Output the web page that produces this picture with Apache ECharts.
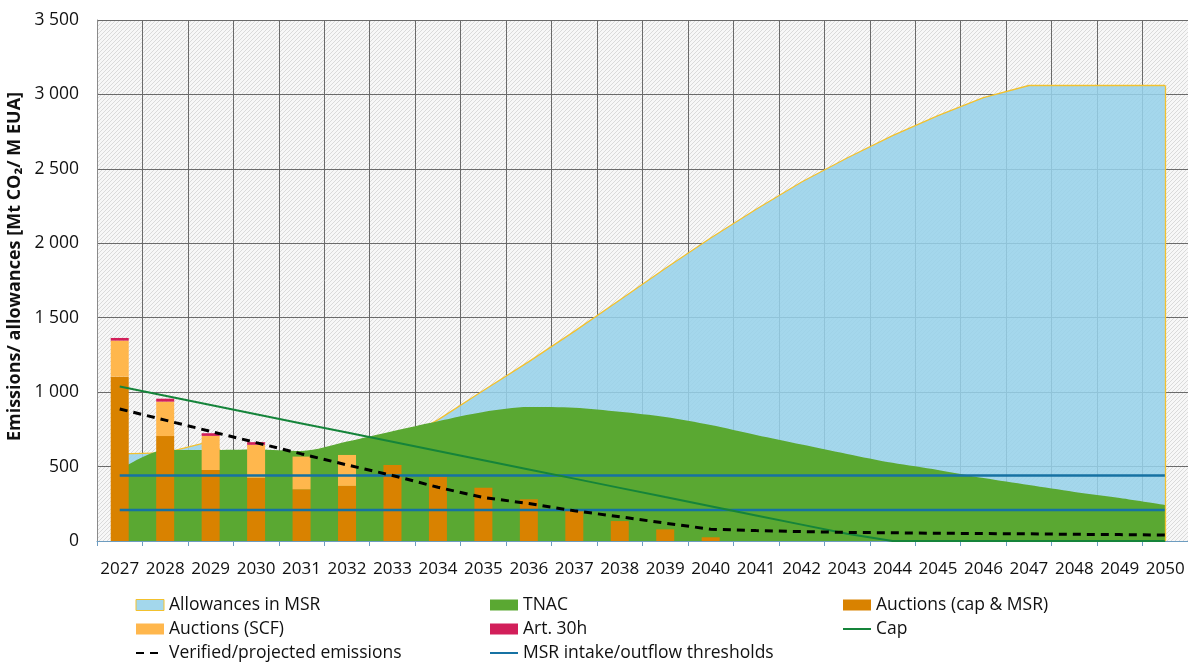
<!DOCTYPE html>
<html>
<head>
<meta charset="utf-8">
<script src="https://cdn.jsdelivr.net/npm/echarts@6/dist/echarts.min.js"></script>
<style>
html,body{margin:0;padding:0;background:#fff;}
#chart{width:1188px;height:662px;}
</style>
</head>
<body>
<div id="chart"></div>
<script>
const years = ['2027','2028','2029','2030','2031','2032','2033','2034','2035','2036','2037','2038','2039','2040','2041','2042','2043','2044','2045','2046','2047','2048','2049','2050'];
const msrAllowances = [585, 592, 670, 380, 430, 520, 650, 814, 1011, 1205, 1408, 1619, 1831, 2036, 2229, 2412, 2573, 2723, 2858, 2979, 3060, 3060, 3060, 3060];
const tnac = [480, 612, 612, 615, 605, 668, 738, 805, 867, 900, 895, 868, 833, 779, 712, 648, 585, 525, 477, 423, 376, 330, 289, 242];
const auctionsCapMsr = [1104, 705, 477, 424, 347, 370, 511, 432, 358, 280, 202, 134, 78, 25, 0, 0, 0, 0, 0, 0, 0, 0, 0, 0];
const auctionsScf = [242, 231, 229, 222, 220, 208, 0, 0, 0, 0, 0, 0, 0, 0, 0, 0, 0, 0, 0, 0, 0, 0, 0, 0];
const art30h = [18, 20, 18, 18, 0, 0, 0, 0, 0, 0, 0, 0, 0, 0, 0, 0, 0, 0, 0, 0, 0, 0, 0, 0];
const cap = [1038, 976, 914, 852, 790, 729, 667, 605, 543, 481, 419, 357, 295, 234, 172, 110, 48, 0, 0, 0, 0, 0, 0, 0];
const emissions = [887, 812, 736, 661, 585, 511, 440, 361, 292, 252, 203, 163, 120, 79, 70, 63, 58, 55, 52, 50, 48, 45, 43, 40];
const thresholdUpper = [440, 440, 440, 440, 440, 440, 440, 440, 440, 440, 440, 440, 440, 440, 440, 440, 440, 440, 440, 440, 440, 440, 440, 440];
const thresholdLower = [208, 208, 208, 208, 208, 208, 208, 208, 208, 208, 208, 208, 208, 208, 208, 208, 208, 208, 208, 208, 208, 208, 208, 208];
const yTicks = { min: 0, max: 3500, interval: 500 };

const FONT = '"Open Sans", "Noto Sans", sans-serif';

// hatched background pattern
const pc = document.createElement('canvas');
pc.width = 4; pc.height = 4;
const px = pc.getContext('2d');
px.fillStyle = '#f7f7f7';
px.fillRect(0, 0, 4, 4);
px.strokeStyle = '#d2d2d2';
px.lineWidth = 0.8;
px.beginPath();
px.moveTo(0, 4); px.lineTo(4, 0);
px.moveTo(-1, 1); px.lineTo(1, -1);
px.moveTo(3, 5); px.lineTo(5, 3);
px.stroke();

const fmt = v => String(v).replace(/\B(?=(\d{3})+(?!\d))/g, ' ');

const chart = echarts.init(document.getElementById('chart'));
const legendText = { fontSize: 17.5, fontFamily: FONT, color: '#111', lineHeight: 17 };
const legendCommon = { orient: 'vertical', itemWidth: 28, itemHeight: 11, itemGap: 6, padding: 0,
  height: 66, textStyle: legendText, top: 596, selectedMode: false };
const noSym = { color: 'transparent', borderColor: 'transparent', borderWidth: 0 };

chart.setOption({
  animation: false,
  grid: { left: 97, right: 0, top: 20, bottom: 121, show: true, borderWidth: 0,
          outerBoundsMode: 'none', containLabel: false,
          backgroundColor: { image: pc, repeat: 'repeat' } },
  legend: [
    Object.assign({}, legendCommon, { left: 135, data: [
      { name: 'Allowances in MSR', icon: 'rect', itemStyle: { color: '#a3d7ec', borderColor: '#f2c12e', borderWidth: 1 } },
      { name: 'Auctions (SCF)', icon: 'rect' },
      { name: 'Verified/projected emissions', itemStyle: noSym }
    ] }),
    Object.assign({}, legendCommon, { left: 489, data: [
      { name: 'TNAC', icon: 'rect' },
      { name: 'Art. 30h', icon: 'rect' },
      { name: 'MSR intake/outflow thresholds', itemStyle: noSym }
    ] }),
    Object.assign({}, legendCommon, { left: 842, data: [
      { name: 'Auctions (cap & MSR)', icon: 'rect' },
      { name: 'Cap', itemStyle: noSym }
    ] })
  ],
  xAxis: {
    type: 'category',
    data: years,
    boundaryGap: true,
    axisLine: { show: true, lineStyle: { color: '#6d9cc0', width: 1 } },
    axisTick: { show: true, interval: 0, length: 5, lineStyle: { color: '#6d9cc0' } },
    axisLabel: { interval: 0, margin: 20, fontSize: 17, fontFamily: FONT, color: '#111' },
    splitLine: { show: true, interval: 0, lineStyle: { color: '#6a6a6a', width: 1 } }
  },
  yAxis: {
    type: 'value',
    min: yTicks.min, max: yTicks.max, interval: yTicks.interval,
    name: 'Emissions/ allowances [Mt CO\u2082/ M EUA]',
    nameLocation: 'middle',
    nameGap: 72,
    nameTextStyle: { fontSize: 18, fontWeight: 'bold', fontFamily: FONT, color: '#111', padding: [0, 0, 0, 28] },
    axisLine: { show: true, lineStyle: { color: '#8a8a8a' } },
    axisTick: { show: false },
    axisLabel: { margin: 18, fontSize: 17.5, fontFamily: FONT, color: '#111', formatter: fmt },
    splitLine: { show: true, lineStyle: { color: '#6a6a6a', width: 1 } }
  },
  series: [
    {
      name: 'Allowances in MSR', type: 'line', z: 1, data: msrAllowances, symbol: 'none',
      lineStyle: { color: '#f2c12e', width: 1.3 },
      itemStyle: { color: '#a3d7ec' },
      areaStyle: { color: 'rgba(150,210,234,0.86)', opacity: 1 },
      markLine: { symbol: 'none', silent: true, label: { show: false },
        lineStyle: { color: '#f2c12e', width: 1.3, type: 'solid' },
        data: [[ { coord: [years[years.length - 1], 0] }, { coord: [years[years.length - 1], msrAllowances[msrAllowances.length - 1]] } ]] }
    },
    {
      name: 'TNAC', type: 'line', z: 2, data: tnac, symbol: 'none', smooth: 0.3,
      lineStyle: { width: 0, color: '#5aa832' },
      itemStyle: { color: '#5aa832' },
      areaStyle: { color: '#5aa832', opacity: 1 }
    },
    { name: 'Auctions (cap & MSR)', type: 'bar', z: 3, stack: 'auc', data: auctionsCapMsr, barWidth: 18, itemStyle: { color: '#d98200' } },
    { name: 'Auctions (SCF)', type: 'bar', z: 3, stack: 'auc', data: auctionsScf, barWidth: 18, itemStyle: { color: '#ffb74d' } },
    { name: 'Art. 30h', type: 'bar', z: 3, stack: 'auc', data: art30h, barWidth: 18, itemStyle: { color: '#d21f5a' } },
    { name: 'MSR intake/outflow thresholds', type: 'line', z: 4, data: thresholdUpper, symbol: 'none',
      lineStyle: { color: '#1672a3', width: 2.5 }, itemStyle: { color: '#1672a3' } },
    { name: 'MSR intake/outflow thresholds', type: 'line', z: 4, data: thresholdLower, symbol: 'none',
      lineStyle: { color: '#1672a3', width: 2.5 }, itemStyle: { color: '#1672a3' } },
    { name: 'Cap', type: 'line', z: 4, data: cap, symbol: 'none',
      lineStyle: { color: '#15843a', width: 2 }, itemStyle: { color: '#15843a' } },
    { name: 'Verified/projected emissions', type: 'line', z: 5, data: emissions, symbol: 'none',
      lineStyle: { color: '#000', width: 3, type: [8, 6] }, itemStyle: { color: '#000' } }
  ]
});
</script>
</body>
</html>
